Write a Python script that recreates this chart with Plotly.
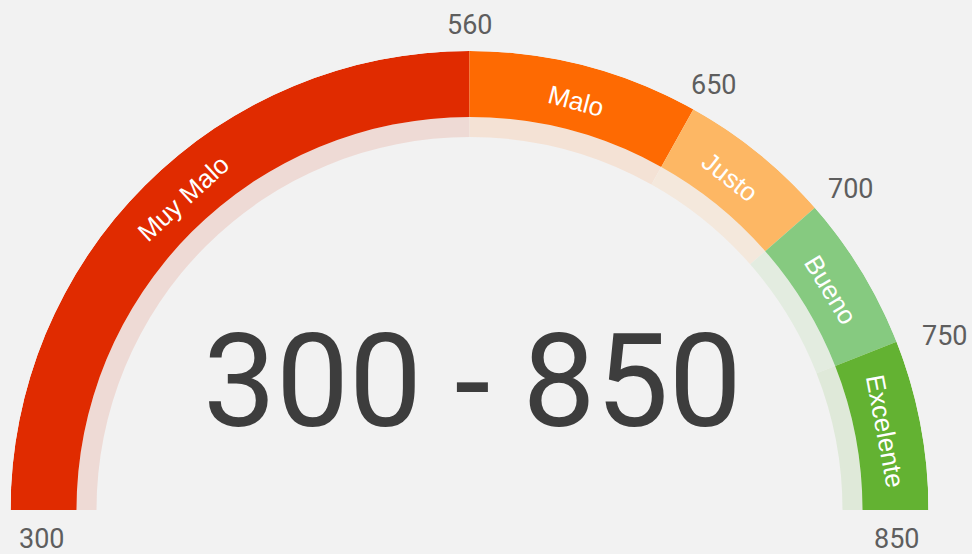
import numpy as np
import plotly.graph_objects as go

# ---------------- data ----------------
categories = ["Muy Malo", "Malo", "Justo", "Bueno", "Excelente"]
range_low = [300, 560, 650, 700, 750]
range_high = [560, 650, 700, 750, 850]
tick_values = [300, 560, 650, 700, 750, 850]
tick_labels = ["300", "560", "650", "700", "750", "850"]
center_text = "300 - 850"

# dial scale of the gauge (non-linear): score -> degrees, clockwise from the left end
scale_scores = [300, 560, 650, 700, 750, 850]
scale_degrees = [0, 90, 119.2, 138.8, 158.5, 180]


def to_deg(v):
    return np.interp(v, scale_scores, scale_degrees)


# ---------------- styles / geometry ----------------
W, H = 972, 554
CX, CY = 469.5, 510.0          # pixel centre of the dial
R_OUT, R_IN, R_SHADOW = 459.0, 393.0, 373.0
BG = "#F2F2F2"
band_colors = ["#E02B00", "#FE6A02", "#FDB764", "#86CA80", "#63B232"]
shadow_colors = ["#EEDAD5", "#F4E2D5", "#F4E8DC", "#E3ECE0", "#DFE9D9"]
label_nudge_deg = [2.5, 0.0, -1.0, 0.0, 0.0]

lo_deg = to_deg(np.array(range_low, dtype=float))
hi_deg = to_deg(np.array(range_high, dtype=float))
mid_deg = (lo_deg + hi_deg) / 2
span_deg = hi_deg - lo_deg


def to_paper(r, deg):
    """polar position (pixels, dial degrees) -> paper coordinates"""
    a = np.radians(deg - 90)
    px = CX + r * np.sin(a)
    py = CY - r * np.cos(a)
    return px / W, (H - py) / H


fig = go.Figure()

# faded inner ring
fig.add_trace(go.Barpolar(
    r=[R_IN - R_SHADOW] * len(categories), base=[R_SHADOW] * len(categories),
    theta=mid_deg, width=span_deg,
    marker=dict(color=shadow_colors, line=dict(width=0)),
    hoverinfo="skip", showlegend=False,
))
# coloured band
fig.add_trace(go.Barpolar(
    r=[R_OUT - R_IN] * len(categories), base=[R_IN] * len(categories),
    theta=mid_deg, width=span_deg, text=categories,
    marker=dict(color=band_colors, line=dict(width=0)),
    hovertemplate="%{text}<extra></extra>", showlegend=False,
))

annotations = []

# tick labels around the dial
for lab, d in zip(tick_labels, to_deg(np.array(tick_values, dtype=float))):
    if d <= 0.01:
        r, t = 428.5, d - 3.9
    elif d >= 179.99:
        r, t = 428.5, d + 3.9
    else:
        s = np.sin(np.radians(d - 90))
        r, t = 485 + 25 * s * s, d + 1.5 * s
    x, y = to_paper(r, t)
    annotations.append(dict(
        x=x, y=y, xref="paper", yref="paper", text=lab, showarrow=False,
        xanchor="center", yanchor="middle",
        font=dict(family="Roboto", size=27, color="#5E5E5E"),
    ))

# segment names along the band
R_TXT = 423.0
for name, d, nd in zip(categories, mid_deg, label_nudge_deg):
    x, y = to_paper(R_TXT, d + nd)
    annotations.append(dict(
        x=x, y=y, xref="paper", yref="paper",
        text=name, showarrow=False, textangle=d + nd - 90,
        xanchor="center", yanchor="middle",
        font=dict(family="Liberation Sans, Arial", size=26, color="white"),
    ))

annotations.append(dict(
    x=472 / W, y=(H - 381) / H, xref="paper", yref="paper",
    text=center_text, showarrow=False, xanchor="center", yanchor="middle",
    font=dict(family="Roboto", size=130, color="#3D3D3D"),
))

fig.update_layout(
    width=W, height=H, margin=dict(l=0, r=0, t=0, b=0),
    paper_bgcolor=BG, plot_bgcolor=BG,
    barmode="overlay",
    annotations=annotations,
    polar=dict(
        domain=dict(x=[(CX - R_OUT) / W, (CX + R_OUT) / W],
                    y=[(H - CY) / H, (H - CY + R_OUT) / H]),
        sector=[0, 180],
        bgcolor="rgba(0,0,0,0)",
        radialaxis=dict(range=[0, R_OUT], visible=False),
        angularaxis=dict(rotation=180, direction="clockwise", visible=False,
                         showgrid=False, showline=False, showticklabels=False),
    ),
)

fig.write_html(
    "out.html",
    config={"displayModeBar": False},
    post_script="document.body.style.margin='0';document.body.style.background='#F2F2F2';",
)
